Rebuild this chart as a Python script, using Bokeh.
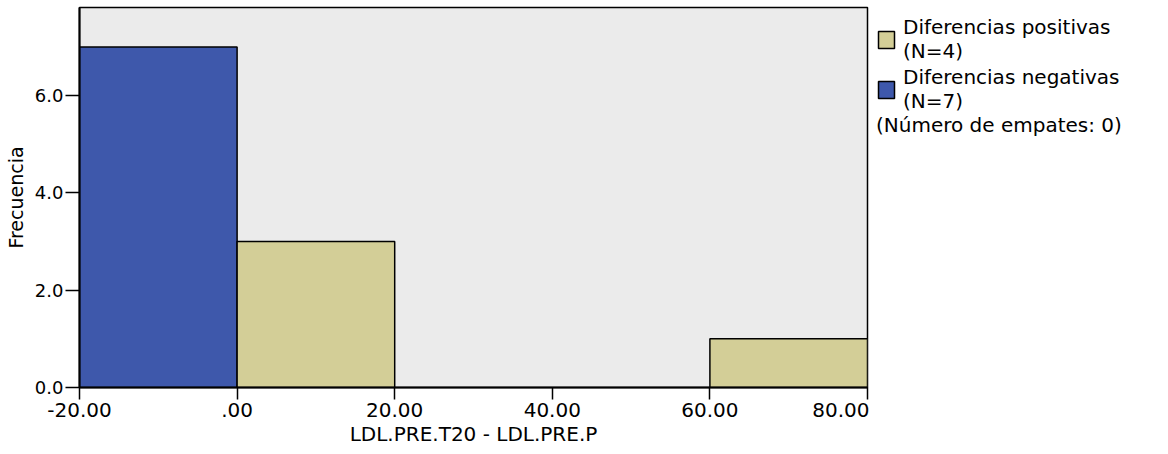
from bokeh.plotting import figure
from bokeh.layouts import row
from bokeh.models import Legend, LegendItem, FixedTicker, Range1d
from bokeh.embed import file_html
from bokeh.resources import INLINE

# ---- data ----
edges = [-20, 0, 20, 40, 60, 80]
neg_counts = [7, 0, 0, 0, 0]
pos_counts = [0, 3, 0, 0, 1]
x_ticks = [-20, 0, 20, 40, 60, 80]
x_tick_labels = ["-20.00", ".00", "20.00", "40.00", "60.00", "80.00"]
y_ticks = [0, 2, 4, 6]
y_tick_labels = ["0.0", "2.0", "4.0", "6.0"]
legend_labels = ["Diferencias positivas\n(N=4)", "Diferencias negativas\n(N=7)"]
ties_note = "(Número de empates: 0)"
x_title = "LDL.PRE.T20 - LDL.PRE.P"
y_title = "Frecuencia"

FONT = "DejaVu Sans"
POS_COLOR = "#D3CE97"
NEG_COLOR = "#3E58AB"


def bars(counts):
    lefts, rights, tops = [], [], []
    for i, c in enumerate(counts):
        if c > 0:
            lefts.append(edges[i])
            rights.append(edges[i + 1])
            tops.append(c)
    return lefts, rights, tops


p = figure(width=869, height=454,
           x_range=Range1d(-20, 80), y_range=Range1d(0, 7.81),
           output_backend="svg", toolbar_location=None,
           min_border_left=79, min_border_right=2,
           min_border_top=7, min_border_bottom=67)

p.background_fill_color = "#EBEBEB"
p.border_fill_color = "white"
p.grid.visible = False
p.outline_line_color = "black"
p.outline_line_width = 1.5

nl, nr, nt = bars(neg_counts)
pl, pr, pt = bars(pos_counts)
p.quad(left=nl, right=nr, bottom=0, top=nt,
       fill_color=NEG_COLOR, line_color="black", line_width=1.5)
p.quad(left=pl, right=pr, bottom=0, top=pt,
       fill_color=POS_COLOR, line_color="black", line_width=1.5)

# axes
xa = p.xaxis[0]
xa.ticker = FixedTicker(ticks=x_ticks)
xa.major_label_overrides = {t: l for t, l in zip(x_ticks, x_tick_labels)}
xa.axis_label = x_title
ya = p.yaxis[0]
ya.ticker = FixedTicker(ticks=y_ticks)
ya.major_label_overrides = {t: l for t, l in zip(y_ticks, y_tick_labels)}
ya.axis_label = y_title

for ax in (xa, ya):
    ax.axis_line_color = "black"
    ax.axis_line_width = 2
    ax.major_tick_line_color = "black"
    ax.major_tick_line_width = 1.5
    ax.major_tick_in = 0
    ax.minor_tick_line_color = None
    ax.major_label_text_font = FONT
    ax.major_label_text_color = "black"
    ax.axis_label_text_font = FONT
    ax.axis_label_text_font_style = "normal"
    ax.axis_label_text_color = "black"

xa.major_tick_out = 12
xa.major_label_standoff = 3
xa.major_label_text_font_size = "20px"
xa.axis_label_text_font_size = "20px"
xa.axis_label_standoff = 2

ya.major_tick_out = 14
ya.major_label_standoff = 2
ya.major_label_text_font_size = "18px"
ya.axis_label_text_font_size = "19px"
ya.axis_label_standoff = 5

# ---- legend panel (separate canvas to the right of the plot frame) ----
q = figure(width=299, height=454, x_range=Range1d(0, 1), y_range=Range1d(0, 1),
           x_axis_type=None, y_axis_type=None,
           output_backend="svg", toolbar_location=None,
           min_border_left=0, min_border_right=0,
           min_border_top=0, min_border_bottom=0)
q.grid.visible = False
q.outline_line_color = None
q.background_fill_color = "white"
q.border_fill_color = "white"
# proxy glyphs for the legend swatches (placed outside the visible range)
g_pos = q.quad(left=[5], right=[6], bottom=[5], top=[6],
               fill_color=POS_COLOR, line_color="black", line_width=1.5)
g_neg = q.quad(left=[5], right=[6], bottom=[5], top=[6],
               fill_color=NEG_COLOR, line_color="black", line_width=1.5)

legend = Legend(items=[LegendItem(label=legend_labels[0], renderers=[g_pos]),
                       LegendItem(label=legend_labels[1], renderers=[g_neg])],
                location=(7, 250),
                title=ties_note, title_location="below")
legend.border_line_color = None
legend.background_fill_alpha = 0
legend.padding = 0
legend.margin = 0
legend.spacing = 2
legend.glyph_width = 20
legend.glyph_height = 21
legend.label_standoff = 7
legend.label_text_font = FONT
legend.label_text_font_size = "20px"
legend.label_text_color = "black"
legend.label_text_line_height = 1.05
legend.title_text_font = FONT
legend.title_text_font_size = "20px"
legend.title_text_font_style = "normal"
legend.title_text_color = "black"
legend.title_standoff = 0
q.add_layout(legend, "center")

layout = row(p, q)
open("out.html", "w").write(file_html(layout, INLINE))
